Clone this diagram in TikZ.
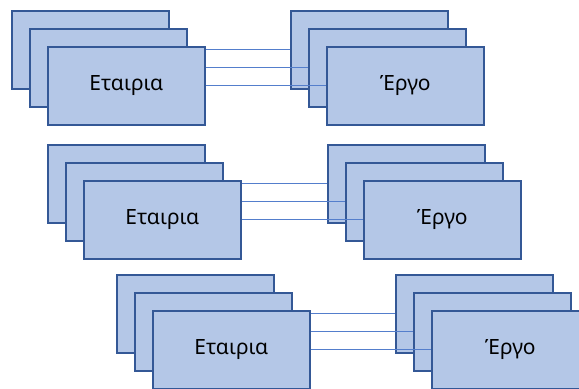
\documentclass[tikz,border=0pt]{standalone}
\usepackage{fontspec}
\setmainfont{Noto Sans}
\usepackage{xcolor}
\usepackage{tikz}
\usetikzlibrary{positioning}
\definecolor{boxfill}{RGB}{180,199,231}
\definecolor{boxedge}{RGB}{52,88,150}
\definecolor{linkblue}{RGB}{84,126,204}
\tikzset{
  card/.style={rectangle, draw=boxedge, fill=boxfill, line width=0.8pt,
    minimum width=78.5pt, minimum height=39pt, inner sep=0pt,
    anchor=north west, font=\fontsize{10.5}{12}\selectfont},
  link/.style={color=linkblue, line width=0.6pt}
}

\begin{document}
\begin{tikzpicture}[x=0.5pt, y=-0.5pt]
  \useasboundingbox (0,0) rectangle (579,388);

  % First pair
  \node[card] (c1a) at (11,10) {};
  \node[card] (c1b) at (29,28) {};
  \node[card] (c1c) at (47,46) {Εταιρια};
  \node[card] (e1a) at (290,10) {};
  \node[card] (e1b) at (308,28) {};
  \node[card] (e1c) at (326,46) {Έργο};

  % Second pair
  \node[card] (c2a) at (47,144) {};
  \node[card] (c2b) at (65,162) {};
  \node[card] (c2c) at (83,180) {Εταιρια};
  \node[card] (e2a) at (327,144) {};
  \node[card] (e2b) at (345,162) {};
  \node[card] (e2c) at (363,180) {Έργο};

  % Third pair
  \node[card] (c3a) at (116,274) {};
  \node[card] (c3b) at (134,292) {};
  \node[card] (c3c) at (152,310) {Εταιρια};
  \node[card] (e3a) at (395,274) {};
  \node[card] (e3b) at (413,292) {};
  \node[card] (e3c) at (431,310) {Έργο};

  % Links from the front card to each card of the stack opposite
  \draw[link] (e1a.west -| c1c.east) -- (e1a.west);
  \draw[link] (e1b.west -| c1c.east) -- (e1b.west);
  \draw[link] (e1c.west -| c1c.east) -- (e1c.west);

  \draw[link] (e2a.west -| c2c.east) -- (e2a.west);
  \draw[link] (e2b.west -| c2c.east) -- (e2b.west);
  \draw[link] (e2c.west -| c2c.east) -- (e2c.west);

  \draw[link] (e3a.west -| c3c.east) -- (e3a.west);
  \draw[link] (e3b.west -| c3c.east) -- (e3b.west);
  \draw[link] (e3c.west -| c3c.east) -- (e3c.west);
\end{tikzpicture}
\end{document}
